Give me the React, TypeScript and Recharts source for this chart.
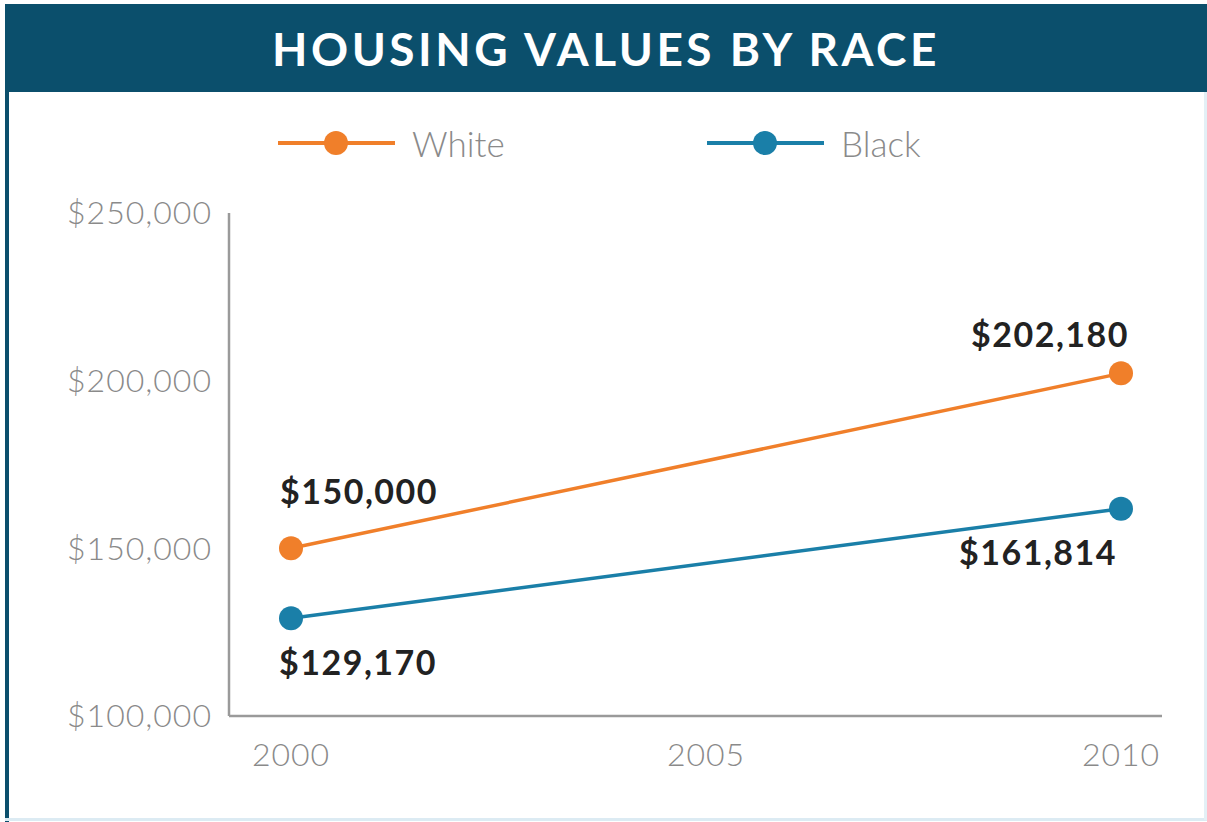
import React from 'react';
import { LineChart, Line, XAxis, YAxis, Legend, LabelList } from 'recharts';

const years = [2000, 2010];
const whiteValues = [150000, 202180];
const blackValues = [129170, 161814];
const yTicks = [100000, 150000, 200000, 250000];
const xTicks = [2000, 2005, 2010];
const seriesNames = ['White', 'Black'];
const seriesColors = ['#f07f2a', '#1a7fa8'];
const title = 'HOUSING VALUES BY RACE';

const data = years.map((y, i) => ({ year: y, White: whiteValues[i], Black: blackValues[i] }));

const fmt = (v: number) => '$' + Number(v).toLocaleString('en-US');
const FONT = 'Lato, "Open Sans", sans-serif';

const makeLabel = (series: string) => (props: any) => {
  const { x, y, value, index } = props;
  const last = index === years.length - 1;
  const anchor = last ? 'end' : 'start';
  let tx: number;
  let ty: number;
  if (series === 'White') {
    tx = last ? x + 8 : x - 11;
    ty = y - (last ? 40 : 58);
  } else {
    tx = last ? x - 4 : x - 12;
    ty = y + 43;
  }
  return (
    <text x={tx} y={ty} textAnchor={anchor} dominantBaseline="central" fontFamily={FONT} fontWeight={700} fontSize={34} letterSpacing={1.5} fill="#222">
      {fmt(value)}
    </text>
  );
};

const LegendContent = () => (
  <div style={{ position: 'relative', width: 700, height: 40 }}>
    {seriesNames.map((name, i) => (
      <div key={name} style={{ position: 'absolute', left: i * 429, top: 0, height: 40, display: 'flex', alignItems: 'center' }}>
        <svg width={117} height={40}>
          <line x1={0} y1={20} x2={117} y2={20} stroke={seriesColors[i]} strokeWidth={4} />
          <circle cx={58} cy={20} r={12} fill={seriesColors[i]} />
        </svg>
        <span style={{ marginLeft: 17, fontFamily: FONT, fontWeight: 300, fontSize: 35, color: '#8a8a8a' }}>{name}</span>
      </div>
    ))}
  </div>
);

export default function App() {
  return (
    <div style={{ position: 'fixed', left: 0, top: 0, width: 1207, height: 822, background: '#ffffff', overflow: 'hidden' }}>
      <div style={{ position: 'absolute', left: 5, top: 4, width: 1202, height: 88, background: '#0b4f6c', display: 'flex', alignItems: 'center', justifyContent: 'center' }}>
        <span style={{ color: '#ffffff', fontFamily: FONT, fontWeight: 700, fontSize: 46, letterSpacing: 3.5 }}>{title}</span>
      </div>
      <div style={{ position: 'absolute', left: 5, top: 4, width: 4, height: 818, background: '#0b4f6c' }} />
      <div style={{ position: 'absolute', left: 5, top: 818, width: 1202, height: 3, background: '#dcebf3' }} />
      <div style={{ position: 'absolute', left: 1204, top: 92, width: 3, height: 728, background: '#e3f0f6' }} />
      <div style={{ position: 'absolute', left: 0, top: 0 }}>
        <LineChart width={1207} height={822} data={data} margin={{ top: 173, right: 45, bottom: 46, left: 0 }}>
          <Legend
            verticalAlign="top"
            align="left"
            height={40}
            content={<LegendContent />}
            wrapperStyle={{ position: 'absolute', top: 123, left: 278, width: 700 }}
          />
          <XAxis
            dataKey="year"
            type="number"
            domain={[2000, 2010]}
            ticks={xTicks}
            padding={{ left: 62, right: 41 }}
            height={60}
            tickSize={0}
            tickMargin={27}
            axisLine={{ stroke: '#9a9a9a', strokeWidth: 2.5 }}
            tick={{ fill: '#8a8a8a', fontSize: 32, fontFamily: FONT, fontWeight: 300, letterSpacing: 1 }}
          />
          <YAxis
            type="number"
            domain={[100000, 250000]}
            ticks={yTicks}
            width={229}
            tickSize={0}
            tickMargin={17}
            tickFormatter={fmt}
            axisLine={{ stroke: '#9a9a9a', strokeWidth: 2.5 }}
            tick={{ fill: '#8a8a8a', fontSize: 32, fontFamily: FONT, fontWeight: 300, letterSpacing: 1 }}
          />
          <Line
            dataKey="White"
            stroke={seriesColors[0]}
            strokeWidth={3.5}
            dot={{ r: 12, fill: seriesColors[0], stroke: 'none' }}
            isAnimationActive={false}
          >
            <LabelList dataKey="White" content={makeLabel('White')} />
          </Line>
          <Line
            dataKey="Black"
            stroke={seriesColors[1]}
            strokeWidth={3.5}
            dot={{ r: 12, fill: seriesColors[1], stroke: 'none' }}
            isAnimationActive={false}
          >
            <LabelList dataKey="Black" content={makeLabel('Black')} />
          </Line>
        </LineChart>
      </div>
    </div>
  );
}
